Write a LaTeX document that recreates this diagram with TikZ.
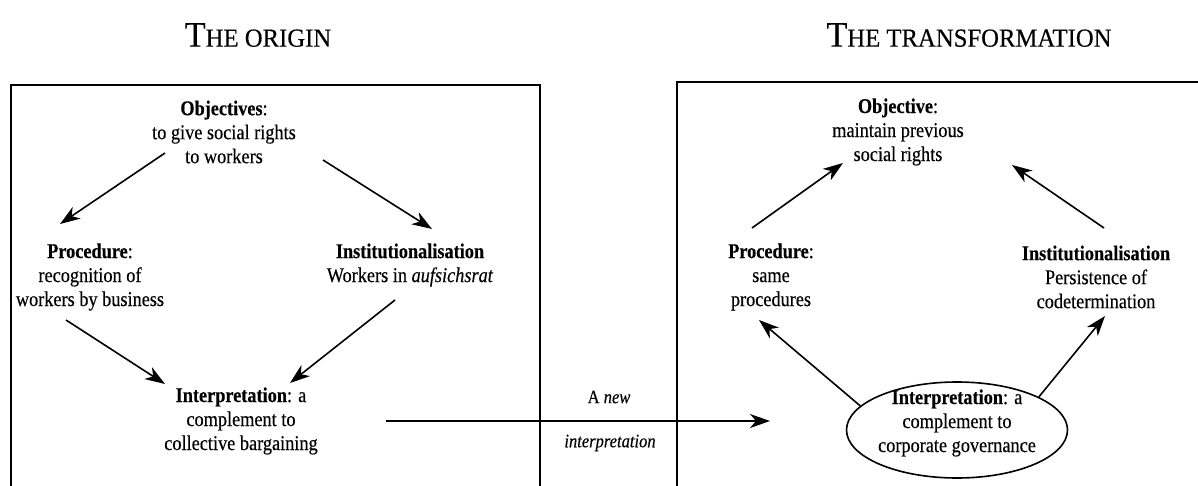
\documentclass[tikz,border=0pt]{standalone}
\usepackage{fontspec}
\setmainfont{Liberation Serif}[FakeStretch=0.87,FakeBold=0.3]
\newfontfamily\titlefont{Liberation Serif}[FakeStretch=0.95,FakeBold=0.3]
\usetikzlibrary{arrows.meta,shapes.geometric}
\tikzset{
  txt/.style={align=center,inner sep=0pt,font=\fontsize{21}{24}\selectfont},
  ttl/.style={inner sep=0pt},
  lbl/.style={inner sep=0pt,font=\fontsize{19}{21}\selectfont\itshape},
  frame/.style={line width=2pt},
  arr/.style={line width=1.6pt,-{Stealth[length=20pt,width=14pt,inset=6pt]}},
  oval/.style={ellipse,draw,line width=1.6pt,minimum width=221pt,minimum height=96pt,inner sep=0pt}
}
\begin{document}
\begin{tikzpicture}[x=1pt,y=-1pt]
\useasboundingbox (0,0) rectangle (1198,486);
% frames
\draw[frame] (11,486) -- (11,85) -- (540,85) -- (540,486);
\draw[frame] (677,486) -- (677,82) -- (1198,82);
% titles
\node[ttl] (t1) at (258,35) {\titlefont\fontsize{36}{38}\selectfont T\fontsize{26}{28}\selectfont HE ORIGIN};
\node[ttl] (t2) at (969,35) {\titlefont\fontsize{36}{38}\selectfont T\fontsize{26}{28}\selectfont HE TRANSFORMATION};
% left diagram
\node[txt] (objL) at (224,132) {\textbf{Objectives}:\\to give social rights\\to workers};
\node[txt] (procL) at (90,277) {\textbf{Procedure}:\\recognition of\\workers by business};
\node[txt] (instL) at (410,265) {\textbf{Institutionalisation}\\Workers in \textit{aufsichsrat}};
\node[txt] (intL) at (241,421) {\textbf{Interpretation}: a\\complement to\\collective bargaining};
% right diagram
\node[txt] (objR) at (898,132) {\textbf{Objective}:\\maintain previous\\social rights};
\node[txt] (procR) at (771,277) {\textbf{Procedure}:\\same\\procedures};
\node[txt] (instR) at (1096,277) {\textbf{Institutionalisation}\\Persistence of\\codetermination};
\node[oval] (intR) at (957,430) {};
\node[txt] (intRt) at (957,423) {\textbf{Interpretation}: a\\complement to\\corporate governance};
% middle labels
\node[lbl] (l1) at (609,397) {\upshape A \itshape new};
\node[lbl] (l2) at (610,443) {interpretation};
% arrows left
\draw[arr] ([shift={(-59,21)}]objL.center) -- ([shift={(-30,-53)}]procL.center);
\draw[arr] ([shift={(99,28)}]objL.center) -- ([shift={(22,-36)}]instL.center);
\draw[arr] ([shift={(-24,43)}]procL.center) -- ([shift={(-76,-37)}]intL.center);
\draw[arr] ([shift={(-15,35)}]instL.center) -- ([shift={(49,-38)}]intL.center);
% transition arrow
\draw[arr] ([shift={(145,0)}]intL.center) -- ([shift={(-187,-9)}]intR.center);
% arrows right
\draw[arr] ([shift={(-19,-49)}]procR.center) -- ([shift={(-55,31)}]objR.center);
\draw[arr] ([shift={(8,-49)}]instR.center) -- ([shift={(114,33)}]objR.center);
\draw[arr] (intR.166) -- ([shift={(-12,43)}]procR.center);
\draw[arr] (intR.22) -- ([shift={(9,39)}]instR.center);
\end{tikzpicture}
\end{document}
